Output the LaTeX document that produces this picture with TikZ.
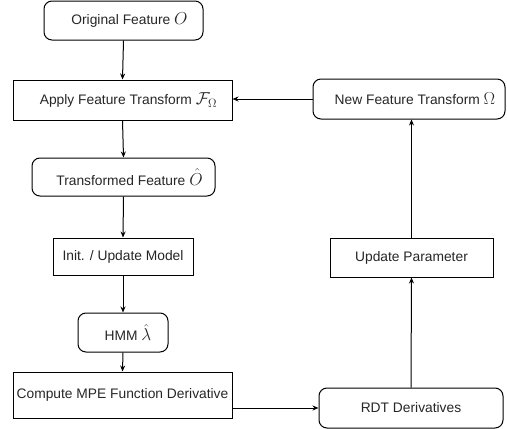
\documentclass[tikz,border=0pt]{standalone}
\usepackage[no-math]{fontspec}
\setmainfont{Liberation Sans}
\usetikzlibrary{arrows.meta}
\newcommand{\bm}[1]{{\fontsize{18}{18}\selectfont$#1$}}
\begin{document}
\begin{tikzpicture}[x=1pt,y=-1pt,
  base/.style={draw, line width=1pt, text=black!85, font=\fontsize{13.8}{15}\selectfont, inner sep=0pt, anchor=center},
  rbox/.style={base, rounded corners=8pt},
  sbox/.style={base},
  conn/.style={line width=1pt, -{Stealth[length=6pt,width=5pt]}}]
\useasboundingbox (0,0) rectangle (507,429);
\node[rbox, minimum width=159pt, minimum height=39pt] (orig) at (123.5,20.5) {\hspace{12pt}Original Feature \bm{O}};
\node[sbox, minimum width=219pt, minimum height=40pt] (apply) at (122.5,100) {\hspace{12pt}Apply Feature Transform \bm{\mathcal{F}_\Omega}};
\node[rbox, minimum width=183pt, minimum height=38pt] (trans) at (123.5,177) {\hspace{12pt}Transformed Feature \bm{\hat{O}}};
\node[sbox, minimum width=140pt, minimum height=37pt] (init) at (123,256.5) {Init. / Update Model};
\node[rbox, minimum width=90pt, minimum height=39pt] (hmm) at (123,332.5) {\hspace{10pt}HMM \bm{\hat{\lambda}}};
\node[sbox, minimum width=219pt, minimum height=46pt] (comp) at (122.5,395) {Compute MPE Function Derivative};
\node[rbox, minimum width=184pt, minimum height=40pt] (rdt) at (411,408) {RDT Derivatives};
\node[sbox, minimum width=163pt, minimum height=39pt] (upd) at (411.5,257.5) {Update Parameter};
\node[rbox, minimum width=192pt, minimum height=40pt] (newft) at (409,99) {\hspace{12pt}New Feature Transform \bm{\Omega}};
\draw[conn] (orig.south) -- (apply.north);
\draw[conn] (apply.south) -- (trans.north);
\draw[conn] (trans.south) -- (init.north);
\draw[conn] (init.south) -- (hmm.north);
\draw[conn] (hmm.south) -- (comp.north);
\draw[conn] (comp.east |- rdt.west) -- (rdt.west);
\draw[conn] (rdt.north) -- (upd.north |- upd.south);
\draw[conn] (upd.north) -- (upd.north |- newft.south);
\draw[conn] (newft.west) -- (apply.east |- newft.west);
\end{tikzpicture}
\end{document}
